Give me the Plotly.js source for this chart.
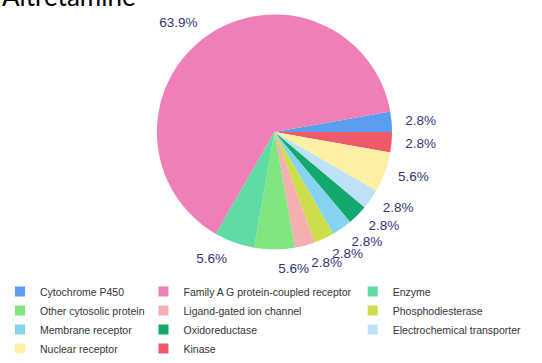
<!DOCTYPE html>
<html>
<head>
<meta charset="utf-8">
<script src="https://cdn.plot.ly/plotly-3.0.1.min.js"></script>
<style>html,body{margin:0;padding:0;background:#fff;}#chart{width:542px;height:363px;}
#chart path.textline{display:none;}</style>
</head>
<body>
<div id="chart"></div>
<script>
// Slice order as drawn (clockwise from just above 3 o'clock)
const sliceLabels = ["Cytochrome P450", "Kinase", "Nuclear receptor", "Electrochemical transporter",
  "Oxidoreductase", "Membrane receptor", "Phosphodiesterase", "Ligand-gated ion channel",
  "Other cytosolic protein", "Enzyme", "Family A G protein-coupled receptor"];
// number of targets per class (shown as 2.8% = 1/36, 5.6% = 2/36, 63.9% = 23/36)
const sliceCounts = [1, 1, 2, 1, 1, 1, 1, 1, 2, 2, 23];
const classColors = {
  "Cytochrome P450": "#5a9ef0",
  "Family A G protein-coupled receptor": "#ef7fb6",
  "Enzyme": "#5edca3",
  "Other cytosolic protein": "#80e680",
  "Ligand-gated ion channel": "#f4afb1",
  "Phosphodiesterase": "#cedd4c",
  "Membrane receptor": "#86d3ef",
  "Oxidoreductase": "#13a86c",
  "Electrochemical transporter": "#bfe1f5",
  "Nuclear receptor": "#fcf0a4",
  "Kinase": "#ee5a6a"
};
// legend columns as in the reference
const legendCol1 = ["Cytochrome P450", "Other cytosolic protein", "Membrane receptor", "Nuclear receptor"];
const legendCol2 = ["Family A G protein-coupled receptor", "Ligand-gated ion channel", "Oxidoreductase", "Kinase"];
const legendCol3 = ["Enzyme", "Phosphodiesterase", "Electrochemical transporter"];
const titleText = "Altretamine";

const W = 542, H = 363;
const CX = 273.5, CY = 132, R = 118, RT = 128;
const pieBase = {
  type: "pie", labels: sliceLabels, values: sliceCounts, sort: false,
  direction: "clockwise", rotation: 80, showlegend: false, automargin: false
};
const traces = [
  Object.assign({}, pieBase, {
    marker: {colors: sliceLabels.map(l => classColors[l]), line: {width: 0}},
    textinfo: "none", hoverinfo: "label+percent",
    domain: {x: [(CX - R) / W, (CX + R) / W], y: [(H - CY - R) / H, (H - CY + R) / H]}
  })
];
// two transparent companion pies carry the outside percentage labels (alternate slices each),
// so the labels sit at their slice angles like the reference instead of being pushed apart
[0, 1].forEach(parity => {
  traces.push(Object.assign({}, pieBase, {
    marker: {colors: sliceLabels.map(() => "rgba(0,0,0,0)"), line: {width: 0}},
    texttemplate: "%{percent:.1%}",
    textposition: sliceLabels.map((_, i) => (i % 2 === parity ? "outside" : "none")),
    hoverinfo: "skip",
    outsidetextfont: {family: "Liberation Sans, Arial, sans-serif", size: 13.5, color: "#33337a"},
    domain: {x: [(CX - RT) / W, (CX + RT) / W], y: [(H - CY - RT) / H, (H - CY + RT) / H]}
  }));
});
[[legendCol1, "legend"], [legendCol2, "legend2"], [legendCol3, "legend3"]].forEach(([col, lg]) => {
  col.forEach(name => traces.push({
    type: "scatter", mode: "markers", x: [null], y: [null], name: name, legend: lg,
    marker: {symbol: "square", size: 10, color: classColors[name], line: {width: 0}},
    hoverinfo: "skip"
  }));
});
const legendBase = {
  orientation: "v", xanchor: "left", yanchor: "bottom", y: 0, bgcolor: "rgba(0,0,0,0)",
  font: {family: "Liberation Sans, Arial, sans-serif", size: 10.5, color: "#333333"},
  tracegroupgap: 0, itemclick: false, itemdoubleclick: false
};
const layout = {
  width: W, height: H,
  margin: {l: 0, r: 0, t: 0, b: 0},
  paper_bgcolor: "#ffffff", plot_bgcolor: "#ffffff",
  xaxis: {visible: false}, yaxis: {visible: false},
  showlegend: true,
  legend: Object.assign({}, legendBase, {x: -2 / W}),
  legend2: Object.assign({}, legendBase, {x: 142 / W}),
  legend3: Object.assign({}, legendBase, {x: 352 / W, y: 19 / H}),
  annotations: [{
    text: titleText, xref: "paper", yref: "paper", x: -2 / W, y: (H - 14) / H,
    xanchor: "left", yanchor: "bottom", showarrow: false,
    font: {family: "Lato, Carlito, sans-serif", size: 26, color: "#000000"}
  }]
};
Plotly.newPlot("chart", traces, layout, {displayModeBar: false, staticPlot: true});
</script>
</body>
</html>
